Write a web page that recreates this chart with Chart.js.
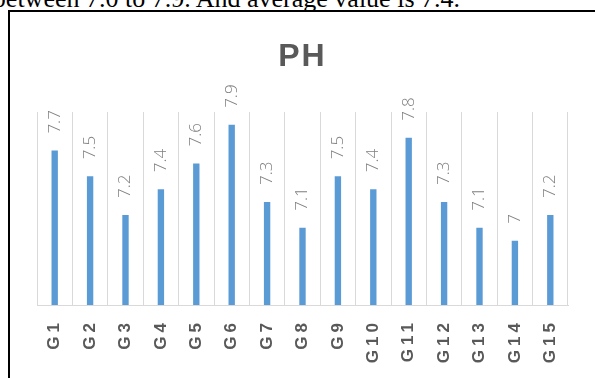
<!DOCTYPE html>
<html>
<head>
<meta charset="utf-8">
<script src="https://cdn.jsdelivr.net/npm/chart.js@4"></script>
<style>
  html, body { margin: 0; padding: 0; width: 595px; height: 378px; overflow: hidden; background: #fff; }
  #caption { position: absolute; right: 135px; top: -14px; font: 26px "Liberation Serif", serif; line-height: 26px; white-space: nowrap; color: #000; }
  #frame { position: absolute; left: 8px; top: 10px; width: 700px; height: 500px; border-left: 2px solid #000; border-top: 2px solid #000; }
  #area { position: absolute; left: 0; top: 0; }
</style>
</head>
<body>
<div id="caption">between 7.0 to 7.9. And average value is 7.4.</div>
<div id="frame"></div>
<canvas id="area" width="595" height="378"></canvas>
<script>
// pH per sample group
const groups = ['G1', 'G2', 'G3', 'G4', 'G5', 'G6', 'G7', 'G8', 'G9', 'G10', 'G11', 'G12', 'G13', 'G14', 'G15']
const phValues = [7.7, 7.5, 7.2, 7.4, 7.6, 7.9, 7.3, 7.1, 7.5, 7.4, 7.8, 7.3, 7.1, 7, 7.2]
const chartTitle = 'PH'

// value labels, category labels and title drawn by hand (rotated, letter spaced)
const textPlugin = {
  id: 'phText',
  afterDatasetsDraw(chart) {
    const ctx = chart.ctx
    const meta = chart.getDatasetMeta(0)
    const xs = chart.scales.x
    const area = chart.chartArea
    ctx.save()

    ctx.font = '300 17px "Open Sans"'
    ctx.fillStyle = '#7f7f7f'
    ctx.textAlign = 'left'
    ctx.textBaseline = 'middle'
    meta.data.forEach((bar, i) => {
      ctx.save()
      ctx.translate(bar.x, bar.y - 17)
      ctx.rotate(-Math.PI / 2)
      ctx.fillText(String(phValues[i]), 0, 0)
      ctx.restore()
    })

    ctx.font = 'bold 17px "Liberation Sans"'
    ctx.letterSpacing = '4px'
    ctx.fillStyle = '#595959'
    ctx.textAlign = 'right'
    groups.forEach((g, i) => {
      ctx.save()
      ctx.translate(xs.getPixelForValue(i), area.bottom + 14)
      ctx.rotate(-Math.PI / 2)
      ctx.fillText(g, 0, 0)
      ctx.restore()
    })

    ctx.letterSpacing = '2px'
    ctx.font = 'bold 32px "Liberation Sans"'
    ctx.textAlign = 'center'
    ctx.fillText(chartTitle, (area.left + area.right) / 2, 57)
    ctx.restore()
  }
}

new Chart(document.getElementById('area'), {
  type: 'bar',
  data: {
    labels: groups,
    datasets: [{
      label: chartTitle,
      data: phValues,
      backgroundColor: '#5b9bd5',
      barPercentage: 0.18,
      categoryPercentage: 1.0
    }]
  },
  options: {
    responsive: false,
    animation: false,
    devicePixelRatio: 1,
    layout: { padding: { left: 37, right: 27, top: 112, bottom: 73 } },
    scales: {
      x: {
        grid: { color: '#d9d9d9', drawTicks: false, offset: true },
        border: { color: '#d9d9d9' },
        ticks: { display: false }
      },
      y: {
        display: false,
        min: 6.5,
        max: 8.0
      }
    },
    plugins: {
      legend: false,
      tooltip: { enabled: false }
    }
  },
  plugins: [textPlugin]
})
</script>
</body>
</html>
